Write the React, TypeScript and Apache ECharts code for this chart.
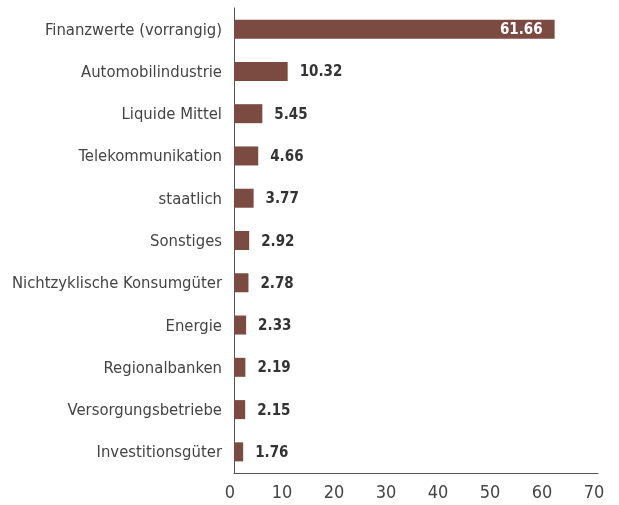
import React, { useEffect, useRef } from "react";
import * as echarts from "echarts";

const categories = [
  "Finanzwerte (vorrangig)",
  "Automobilindustrie",
  "Liquide Mittel",
  "Telekommunikation",
  "staatlich",
  "Sonstiges",
  "Nichtzyklische Konsumgüter",
  "Energie",
  "Regionalbanken",
  "Versorgungsbetriebe",
  "Investitionsgüter",
];
const values = [61.66, 10.32, 5.45, 4.66, 3.77, 2.92, 2.78, 2.33, 2.19, 2.15, 1.76];
const xTicks = [0, 10, 20, 30, 40, 50, 60, 70];

const FONT = "'DejaVu Sans Condensed', 'Liberation Sans Narrow', sans-serif";

export default function App() {
  const ref = useRef<HTMLDivElement>(null);
  useEffect(() => {
    if (!ref.current) return;
    const chart = echarts.init(ref.current, null, { renderer: "svg" });
    chart.setOption({
      animation: false,
      grid: { left: 234, top: 8, width: 364, height: 465 },
      xAxis: {
        type: "value",
        min: xTicks[0],
        max: xTicks[xTicks.length - 1],
        interval: 10,
        axisLine: { show: true, lineStyle: { color: "#555", width: 1 } },
        axisTick: { show: false },
        splitLine: { show: false },
        axisLabel: {
          color: "#444",
          fontSize: 18,
          fontFamily: FONT,
          margin: 9,
          padding: [0, 8, 0, 0],
        },
      },
      yAxis: {
        type: "category",
        data: categories,
        inverse: true,
        axisLine: { show: true, lineStyle: { color: "#555", width: 1 } },
        axisTick: { show: false },
        axisLabel: { color: "#444", fontSize: 16.5, fontFamily: FONT, margin: 12 },
      },
      series: [
        {
          type: "bar",
          barWidth: 19,
          itemStyle: { color: "#7b4a40" },
          data: values.map((v, i) => ({
            value: v,
            label:
              i === 0
                ? { show: true, position: "insideRight", color: "#fff", distance: 12 }
                : { show: true, position: "right", color: "#333", distance: 12 },
          })),
          label: {
            show: true,
            fontSize: 15,
            fontWeight: "bold",
            fontFamily: FONT,
            formatter: (p: any) => p.value.toFixed(2),
          },
        },
      ],
    });
    return () => chart.dispose();
  }, []);
  return (
    <div
      ref={ref}
      style={{ position: "fixed", left: 0, top: 0, width: 619, height: 505 }}
    />
  );
}
